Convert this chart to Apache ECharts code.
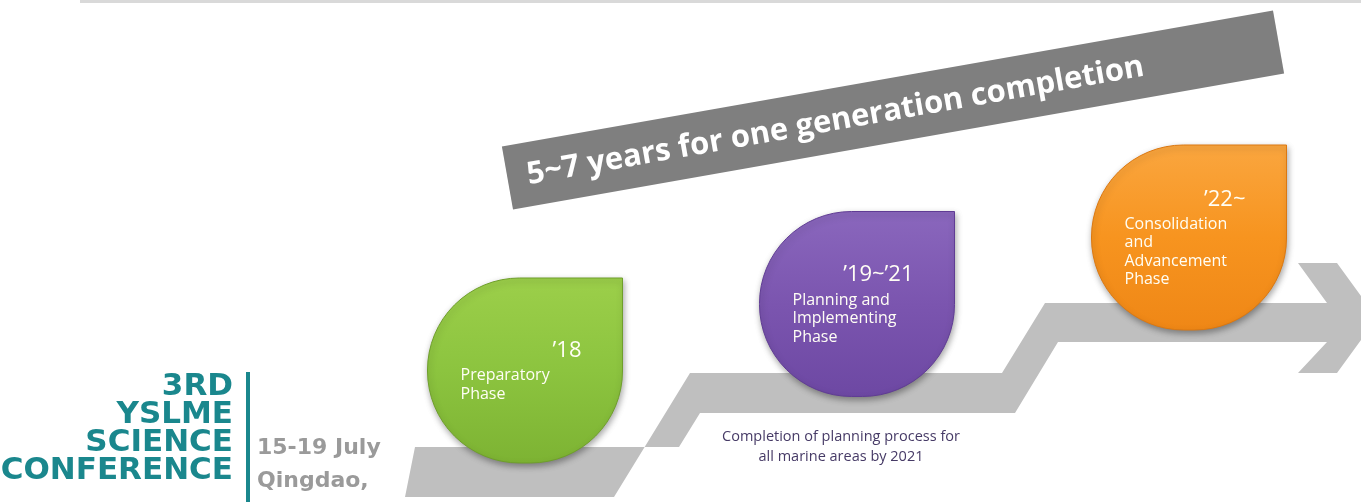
<!DOCTYPE html>
<html>
<head>
<meta charset="utf-8">
<script src="https://cdn.jsdelivr.net/npm/echarts@6.0.0/dist/echarts.min.js"></script>
<style>
  html, body { margin: 0; padding: 0; background: #ffffff; }
  #chart { width: 1361px; height: 502px; }
</style>
</head>
<body>
<div id="chart"></div>
<script>
// ---- data ----
const phaseNames = ['Preparatory\nPhase', 'Planning and\nImplementing\nPhase', 'Consolidation\nand\nAdvancement\nPhase'];
const phaseYears = ['\u201918', '\u201919~\u201921', '\u201922~'];
const phaseLevels = [1, 2, 3];
const bannerText = '5~7 years for one generation completion';
const captionLines = ['Completion of planning process for', 'all marine areas by 2021'];
const logoLines = ['3RD', 'YSLME', 'SCIENCE', 'CONFERENCE'];
const eventLines = ['15-19 July', 'Qingdao,'];

// ---- styles ----
const palette = [
  { top: '#9ccf4a', mid: '#8cc43f', bottom: '#7db333', edge: '#6f9f2b' },
  { top: '#8a67bd', mid: '#7b55af', bottom: '#6d48a3', edge: '#603c94' },
  { top: '#faa63f', mid: '#f7941f', bottom: '#ef8716', edge: '#dc7810' }
];

const chart = echarts.init(document.getElementById('chart'), null, { renderer: 'canvas' });

const phaseData = phaseLevels.map((lv, i) => [i, lv]);

const W = 195, H = 185;

function renderPhase(params, api) {
  const i = params.dataIndex;
  const c = api.coord([api.value(0), api.value(1)]);
  const x0 = c[0] - W / 2, y0 = c[1] - H / 2;
  const names = phaseNames[i].split('\n');
  const n = names.length;
  const total = 25 + (n - 1) * 18.5;
  const yearY = c[1] - total / 2 + 2;
  const p = palette[i];
  return {
    type: 'group',
    children: [
      {
        type: 'rect',
        shape: { x: x0, y: y0, width: W, height: H, r: [92, 0, 92, 92] },
        style: {
          fill: new echarts.graphic.LinearGradient(0, 0, 0, 1, [
            { offset: 0, color: p.top },
            { offset: 0.5, color: p.mid },
            { offset: 1, color: p.bottom }
          ]),
          stroke: p.edge,
          lineWidth: 1,
          shadowBlur: 6,
          shadowColor: 'rgba(0,0,0,0.35)',
          shadowOffsetX: 1,
          shadowOffsetY: 3
        }
      },
      {
        type: 'text',
        style: {
          x: x0 + W - 41,
          y: yearY,
          text: phaseYears[i],
          fill: '#fffef5',
          font: '22px "Open Sans"',
          align: 'right',
          verticalAlign: 'middle'
        }
      },
      {
        type: 'text',
        style: {
          x: x0 + W - 162,
          y: yearY + 25 - 18.5 / 2,
          text: names.join('\n'),
          fill: '#fffef5',
          font: '16px "Open Sans"',
          lineHeight: 18.5,
          align: 'left',
          verticalAlign: 'top'
        }
      }
    ]
  };
}

const arrowPoints = [
  [415, 447], [679, 447], [700, 413], [1015, 413], [1058, 342], [1327, 342],
  [1298, 373], [1337, 373], [1377, 318], [1337, 263], [1298, 263], [1327, 303],
  [1045, 303], [1002, 373], [690, 373], [614, 497], [405, 497]
];

const logoY0 = 387, logoStep = 28;

const graphics = [
  { type: 'rect', z: 0, shape: { x: 80, y: 0, width: 1281, height: 3 }, style: { fill: '#d9d9d9' } },
  { type: 'polygon', z: 0, shape: { points: arrowPoints }, style: { fill: '#bfbfbf' } },
  {
    type: 'group', x: 893, y: 110, rotation: 10 * Math.PI / 180, z: 5,
    children: [
      { type: 'rect', shape: { x: -391.5, y: -32, width: 783, height: 64 }, style: { fill: '#7f7f7f' } },
      { type: 'text', style: { x: -391.5 + 20, y: 1, text: bannerText, fill: '#ffffff', font: 'bold 31px "Open Sans"', align: 'left', verticalAlign: 'middle' } }
    ]
  },
  {
    type: 'text', z: 5,
    style: { x: 841, y: 447, text: captionLines.join('\n'), fill: '#463a66', font: '14.5px "Open Sans"', lineHeight: 20, align: 'center', verticalAlign: 'middle' }
  },
  { type: 'rect', z: 5, shape: { x: 246, y: 372, width: 4, height: 130 }, style: { fill: '#1a878d' } }
];
logoLines.forEach((t, k) => {
  graphics.push({ type: 'text', z: 5, style: { x: 233, y: logoY0 + k * logoStep, text: t, fill: '#1a878d', font: 'bold 31px "DejaVu Sans"', align: 'right', verticalAlign: 'middle' } });
});
eventLines.forEach((t, k) => {
  graphics.push({ type: 'text', z: 5, style: { x: 257, y: 448 + k * 33, text: t, fill: '#9a9a9a', font: 'bold 22px "DejaVu Sans"', align: 'left', verticalAlign: 'middle' } });
});

chart.setOption({
  backgroundColor: '#ffffff',
  animation: false,
  grid: { left: 359, right: 6, top: 38, bottom: 65, containLabel: false },
  xAxis: { type: 'category', data: phaseNames, show: false, boundaryGap: true },
  yAxis: { type: 'value', min: 0, max: 6, show: false },
  graphic: { elements: graphics },
  series: [{
    type: 'custom',
    z: 3,
    clip: false,
    renderItem: renderPhase,
    data: phaseData
  }]
});
</script>
</body>
</html>
